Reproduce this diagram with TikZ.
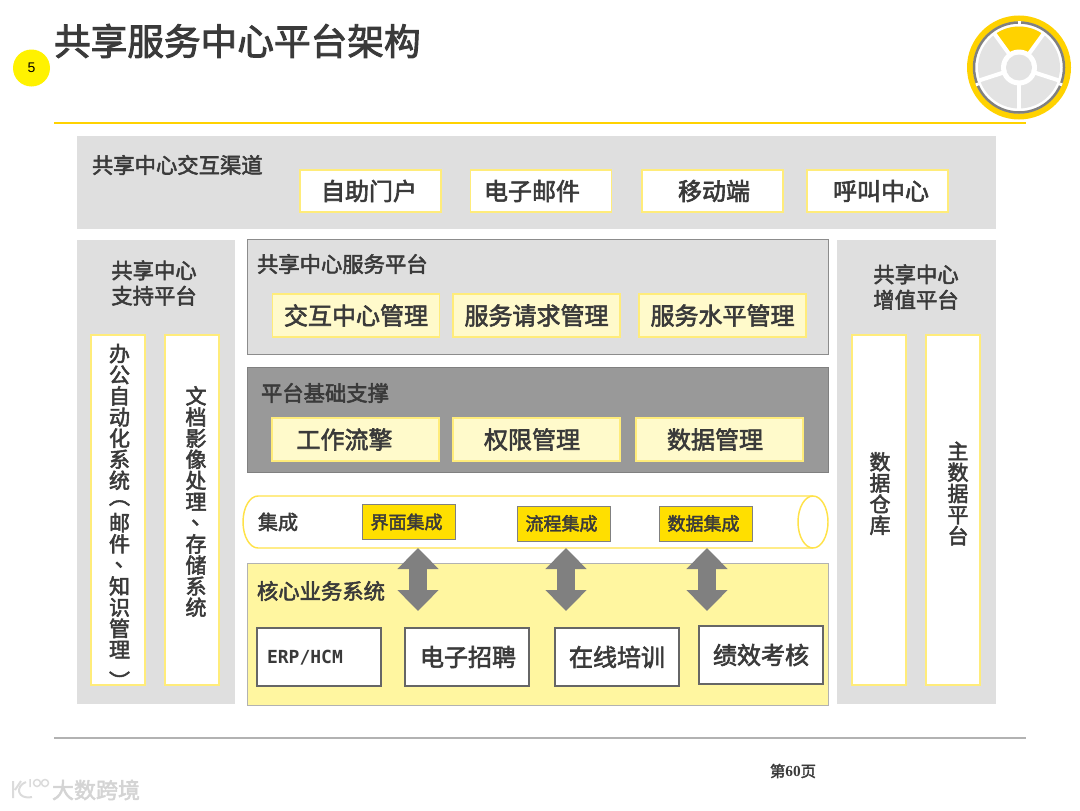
\documentclass[tikz,border=0pt]{standalone}
\usepackage{fontspec,xcolor}
\setmainfont{Noto Sans CJK SC}[BoldFont={Noto Sans CJK SC},BoldFeatures={FakeBold=2.5}]
\newfontfamily\ermono{DejaVu Sans Mono}
\newfontfamily\arialf{Liberation Sans}
\newfontfamily\timesf{Liberation Serif}
\usetikzlibrary{arrows.meta,positioning,shapes.geometric}
\definecolor{ey}{HTML}{FFD200}
\definecolor{edge}{HTML}{FFEC7A}
\definecolor{pale}{HTML}{FFFACB}
\definecolor{corefill}{HTML}{FFF6A0}
\definecolor{band}{HTML}{DFDFDF}
\definecolor{ink}{HTML}{3A3A3A}
\def\px{0.75pt}
\newlength\pxlen
\setlength\pxlen{0.75pt}
\newcommand{\nudge}[3]{\raisebox{-#2\pxlen}{\hspace*{#1\pxlen}#3\hspace*{-#1\pxlen}}}
\newcommand{\vpl}{\raisebox{0.25em}{\smash{\rotatebox[origin=c]{-90}{（}}}}
\newcommand{\vpr}{\raisebox{-0.5em}{\smash{\rotatebox[origin=c]{-90}{）}}}}
\newcommand{\vdun}{\makebox[1em][l]{\hspace{0.27em}\raisebox{0.3em}{\smash{、}}}}
\tikzset{
  base/.style={inner sep=0pt,outer sep=0pt,text=ink,font=\bfseries\fontsize{18}{20}\selectfont,align=center},
  panel/.style={base,anchor=north west},
  lbl/.style={base,font=\bfseries\fontsize{16}{19}\selectfont,anchor=west},
  lbltwo/.style={base,font=\bfseries\fontsize{16}{19}\selectfont},
  chanblk/.style={base,draw=edge,line width=1.2pt,fill=white,minimum width=141*\px,minimum height=42*\px},
  paleblk/.style={base,draw=edge,line width=1.2pt,fill=pale,minimum width=167*\px,minimum height=43*\px},
  vertblk/.style={base,draw=edge,line width=1.2pt,fill=white,minimum width=54*\px,minimum height=350*\px},
  verttxt/.style={base,font=\bfseries\fontsize{15.75}{15.85}\selectfont},
  intblk/.style={base,draw=black!50,line width=0.7pt,fill=ey!70!yellow,minimum width=93*\px,minimum height=35*\px,font=\bfseries\fontsize{13.5}{15}\selectfont},
  coreblk/.style={base,draw=black!60,line width=0.8pt,fill=white,minimum width=124*\px,minimum height=58*\px},
  dblarr/.style={{Triangle[width=40*\px,length=21*\px]}-{Triangle[width=40*\px,length=21*\px]},line width=18*\px,draw=black!50}
}
\begin{document}
\begin{tikzpicture}[x=\px,y=-\px]
  \useasboundingbox (0,0) rectangle (1080,810);
  % head
  \node[base,anchor=west,font=\bfseries\fontsize{27.5}{30}\selectfont] (title) at (54,41) {共享服务中心平台架构};
  \node[circle,fill=yellow,minimum size=37*\px,inner sep=0pt,font=\arialf\fontsize{10.5}{12}\selectfont] (num) at (31.5,68) {5};
  \draw[ey,line width=1.5pt] (54,123) -- (1026,123);
  \draw[black!30,line width=0.8pt] (54,738) -- (1026,738);
  % emblem
  \begin{scope}[shift={(1019,67.5)},x=\px,y=\px]
    \draw[ey,line width=6*\px] (0,0) circle (49);
    \draw[black!50,line width=2.5*\px] (0,0) circle (45);
    \foreach \a in {90,202,338}
      \draw[white,line width=3*\px] (\a:43.5) -- (\a:46.5);
    \fill[black!11] (0,0) circle (41);
    \fill[ey] (0,0) -- (54:41) arc[start angle=54,end angle=126,radius=41] -- cycle;
    \foreach \a in {54,126,198,270,342}
      \draw[white,line width=4*\px] (0,0) -- (\a:42);
    \fill[white] (0,0) circle (18);
    \fill[black!11] (0,0) circle (13);
  \end{scope}
  % panels
  \node[panel,fill=band,minimum width=919*\px,minimum height=93*\px] (chanpanel) at (77,136) {};
  \node[panel,fill=band,minimum width=158*\px,minimum height=464*\px] (supportpanel) at (77,240) {};
  \node[panel,fill=band,minimum width=159*\px,minimum height=464*\px] (valuepanel) at (837,240) {};
  \node[panel,fill=band,draw=black!45,line width=0.6pt,minimum width=581*\px,minimum height=115*\px] (svcpanel) at (247,239) {};
  \node[panel,fill=black!40,draw=black!50,line width=0.6pt,minimum width=581*\px,minimum height=105*\px] (basepanel) at (247,367) {};
  \node[panel,fill=corefill,draw=black!30,line width=0.6pt,minimum width=581*\px,minimum height=142*\px] (corepanel) at (247,563) {};
  % channels
  \node[lbl] (chanlbl) at (92,165) {共享中心交互渠道};
  \node[chanblk] (portal) at (370.5,191) {\nudge{-1.5}{1.5}{自助门户}};
  \node[chanblk] (mail) at (541,191) {\nudge{-9}{1.5}{电子邮件}};
  \node[chanblk] (mobile) at (712.5,191) {\nudge{1.5}{1.5}{移动端}};
  \node[chanblk] (call) at (877.5,191) {\nudge{3.5}{1.5}{呼叫中心}};
  % left and right columns
  \node[lbltwo] (supportlbl) at (154,283) {共享中心\\支持平台};
  \node[vertblk] (office) at (118,510) {};
  \node[verttxt] (officetxt) at (119.5,516.5) {办\\公\\自\\动\\化\\系\\统\\\vpl\\邮\\件\\\vdun\\知\\识\\管\\理\\\vpr};
  \node[vertblk] (docs) at (192,510) {};
  \node[verttxt] (docstxt) at (196,501.5) {文\\档\\影\\像\\处\\理\\\vdun\\存\\储\\系\\统};
  \node[lbltwo] (valuelbl) at (916,287) {共享中心\\增值平台};
  \node[vertblk] (dw) at (879,510) {};
  \node[verttxt] (dwtxt) at (880,493.5) {数\\据\\仓\\库};
  \node[vertblk] (mdm) at (953,510) {};
  \node[verttxt] (mdmtxt) at (958,493.5) {主\\数\\据\\平\\台};
  % service platform
  \node[lbl] (svclbl) at (257,264) {共享中心服务平台};
  \node[paleblk] (interact) at (356,315.5) {\nudge{0}{1.5}{交互中心管理}};
  \node[paleblk] (request) at (536.5,315.5) {\nudge{0}{1.5}{服务请求管理}};
  \node[paleblk] (level) at (722.5,315.5) {\nudge{0}{1.5}{服务水平管理}};
  % base platform
  \node[lbl] (baselbl) at (261,393) {平台基础支撑};
  \node[paleblk] (flow) at (355.5,439.5) {\nudge{-11}{1.5}{工作流擎}};
  \node[paleblk] (rights) at (536.5,439.5) {\nudge{-4.5}{1.5}{权限管理}};
  \node[paleblk] (datamgr) at (719.5,439.5) {\nudge{-4.5}{1.5}{数据管理}};
  % integration
  \draw[edge!60!ey,line width=1.1pt,fill=white] (813,496) -- (258,496) arc[start angle=270,end angle=90,x radius=15,y radius=26] -- (813,548) arc[start angle=90,end angle=-90,x radius=15,y radius=26];
  \draw[edge!60!ey,line width=1.1pt] (813,496) arc[start angle=270,end angle=90,x radius=15,y radius=26];
  \node[lbl,font=\bfseries\fontsize{15}{18}\selectfont] (intlbl) at (258,522) {集成};
  \node[intblk] (uiint) at (408.5,522) {\nudge{-2}{1}{界面集成}};
  \node[intblk] (procint) at (563.5,523.5) {\nudge{-2}{1}{流程集成}};
  \node[intblk] (dataint) at (705.5,523.5) {\nudge{-2}{1}{数据集成}};
  % core
  \node[lbl] (corelbl) at (257,591) {核心业务系统};
  \node[coreblk] (erp) at (319,657) {};
  \node[base,anchor=west,font=\ermono\bfseries\fontsize{13.5}{15}\selectfont] (erptxt) at (267,658) {ERP/HCM};
  \node[coreblk] (hire) at (467,657) {\nudge{1}{3}{电子招聘}};
  \node[coreblk] (train) at (617,657) {\nudge{0}{3}{在线培训}};
  \node[coreblk] (kpi) at (761,655) {\nudge{0}{2}{绩效考核}};
  % arrows
  \coordinate (a1) at (418,548); \coordinate (b1) at (418,611);
  \coordinate (a2) at (566,548); \coordinate (b2) at (566,611);
  \coordinate (a3) at (707,548); \coordinate (b3) at (707,611);
  \foreach \i in {1,2,3}
    \draw[dblarr] (a\i) -- (b\i);
  % foot
  \node[base,font=\bfseries\fontsize{11.5}{14}\selectfont] (page) at (793,771) {第{\timesf 60}页};
  \node[base,anchor=west,text=black!17,font=\bfseries\fontsize{16.5}{18}\selectfont] (mark) at (52,790) {大数跨境};
  \draw[black!14,line width=2*\px] (13,781) -- (13,798) (21,781) -- (15,790);
  \draw[black!14,line width=2*\px] (26,782) .. controls (15,786) and (17,800) .. (32,797);
  \draw[black!14,line width=1.5*\px] (30,779) -- (30,787) (37,783) circle (3.5) (45,783) circle (3.5);
\end{tikzpicture}
\end{document}
